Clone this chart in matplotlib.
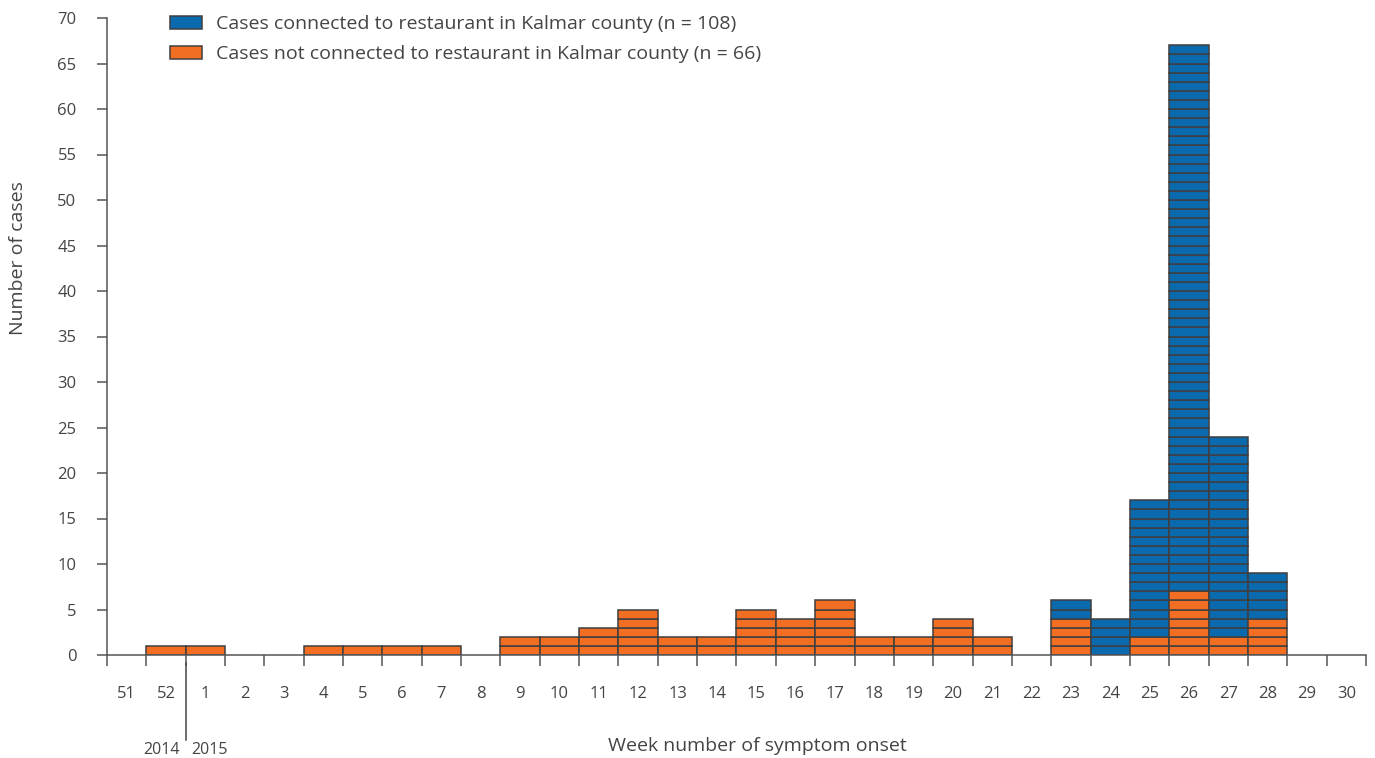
import numpy as np
import matplotlib.pyplot as plt
from matplotlib.patches import Patch

plt.rcParams['font.family'] = ['Open Sans', 'DejaVu Sans']

# Week of symptom onset (week 51 2014 to week 30 2015)
weeks = ['51', '52'] + [str(w) for w in range(1, 31)]
not_connected = [0, 1, 1, 0, 0, 1, 1, 1, 1, 0, 2, 2, 3, 5, 2, 2, 5, 4, 6, 2, 2, 4, 2,
                 0, 4, 0, 2, 7, 2, 4, 0, 0]
connected = [0, 0, 0, 0, 0, 0, 0, 0, 0, 0, 0, 0, 0, 0, 0, 0, 0, 0, 0, 0, 0, 0, 0,
             0, 2, 4, 15, 60, 22, 5, 0, 0]
yticks = list(range(0, 71, 5))

blue = '#0b69ad'
orange = '#f26e22'
edge = '#3f3f3f'
text_col = '#444444'
axis_col = '#555555'

fig = plt.figure(figsize=(13.75, 7.58), dpi=100)
ax = fig.add_axes([107 / 1375, 1 - 655 / 758, (1366 - 107) / 1375, (655 - 18) / 758])

x = np.arange(len(weeks))
# one cell per case: orange at the bottom, blue stacked above
for i in x:
    for k in range(not_connected[i]):
        ax.bar(i, 1, bottom=k, width=1.0, color=orange, edgecolor=edge, linewidth=1.1)
    for k in range(connected[i]):
        ax.bar(i, 1, bottom=not_connected[i] + k, width=1.0, color=blue,
               edgecolor=edge, linewidth=1.1)

ax.set_xlim(-0.5, len(weeks) - 0.5)
ax.set_ylim(0, 70)

for s in ['top', 'right']:
    ax.spines[s].set_visible(False)
for s in ['left', 'bottom']:
    ax.spines[s].set_color(axis_col)
    ax.spines[s].set_linewidth(1.1)

ax.set_yticks(yticks)
ax.tick_params(axis='y', length=7, width=1.1, color=axis_col, labelcolor=text_col,
               labelsize=12, pad=15)

# boundaries get tick marks, centres get labels
ax.set_xticks(np.arange(len(weeks) + 1) - 0.5)
ax.set_xticklabels([])
ax.tick_params(axis='x', which='major', length=8, width=1.1, color=axis_col)
ax.set_xticks(x, minor=True)
ax.set_xticklabels(weeks, minor=True)
ax.tick_params(axis='x', which='minor', length=0, labelcolor=text_col,
               labelsize=12, pad=22)

# year divider between week 52 and week 1
ax.plot([1.5, 1.5], [-0.9, -9.3], color=text_col, linewidth=1.1, clip_on=False)
ax.text(1.35, -10.4, '2014', ha='right', va='center', color=text_col, fontsize=11.5)
ax.text(1.65, -10.4, '2015', ha='left', va='center', color=text_col, fontsize=11.5)

fig.text(757 / 1375, 1 - 746 / 758, 'Week number of symptom onset', ha='center',
         va='center', color=text_col, fontsize=14)
fig.text(18 / 1375, 1 - 258 / 758, 'Number of cases', ha='center', va='center',
         rotation=90, color=text_col, fontsize=14)

handles = [Patch(facecolor=blue, edgecolor=edge, linewidth=1.1),
           Patch(facecolor=orange, edgecolor=edge, linewidth=1.1)]
labels = ['Cases connected to restaurant in Kalmar county (n = 108)',
          'Cases not connected to restaurant in Kalmar county (n = 66)']
leg = fig.legend(handles, labels, loc='upper left',
                 bbox_to_anchor=(152 / 1375, 1 + 2 / 758), frameon=False,
                 fontsize=14, handlelength=1.65, handleheight=0.62,
                 handletextpad=0.75, labelspacing=0.6)
for t in leg.get_texts():
    t.set_color(text_col)

fig.savefig('out.png', dpi=100)
